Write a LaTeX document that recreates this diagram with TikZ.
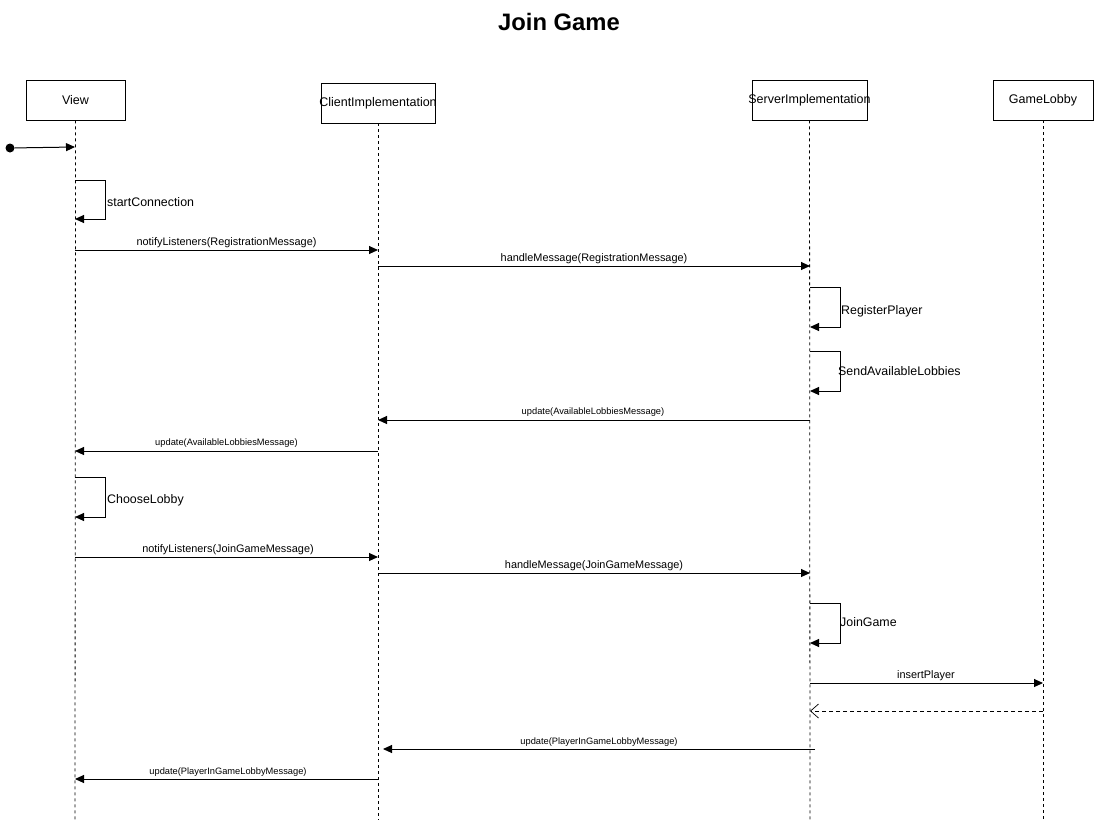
\documentclass[tikz,border=0pt]{standalone}
\usepackage{fontspec}
\setmainfont{Liberation Sans}
\usetikzlibrary{arrows.meta}
\begin{document}
\begin{tikzpicture}[x=1pt,y=-1pt,
  obj/.style={draw,line width=0.8pt,minimum width=#1,minimum height=40pt,inner sep=0pt,font=\fontsize{12.5}{14}\selectfont},
  life/.style={dash pattern=on 3pt off 3pt,line width=0.8pt},
  msg/.style={line width=1pt,-{Triangle[length=9pt,width=8pt]}},
  ret/.style={line width=0.8pt,dash pattern=on 4pt off 3pt,-{Straight Barb[length=8pt,width=14pt,line width=0.7pt]}},
  selfmsg/.style={line width=1pt,-{Triangle[length=9pt,width=8pt]}},
  lbl/.style={font=\fontsize{10.9}{12}\selectfont,inner sep=0pt,yshift=-1.5pt},
  slbl/.style={font=\fontsize{9.3}{10}\selectfont,inner sep=0pt,yshift=-1.5pt},
  loopl/.style={font=\fontsize{12.4}{14}\selectfont,inner sep=0pt,anchor=west}]
\useasboundingbox (0,0) rectangle (1094,823);
\node[font=\fontsize{23.8}{28}\selectfont\bfseries] (title) at (559,22) {Join Game};
% lifeline heads
\node[obj=99pt] (view) at (75.5,100) {\raisebox{-1.5pt}{View}};
\node[obj=114pt] (client) at (378,103) {\raisebox{-2pt}{\makebox[0pt]{ClientImplementation}}};
\node[obj=115pt] (server) at (809.5,100) {\raisebox{-1.5pt}{\makebox[0pt]{ServerImplementation}}};
\node[obj=100pt] (lobby) at (1043,100) {\raisebox{-1.5pt}{GameLobby}};
% lifeline ends
\coordinate (viewE) at (75,820);
\coordinate (clientE) at (378,820);
\coordinate (serverE) at (810,820);
\coordinate (lobbyE) at (1043,820);
\draw[life] (view.south) -- (viewE);
\draw[life] (client.south) -- (clientE);
\draw[life] (server.south) -- (serverE);
\draw[life] (lobby.south) -- (lobbyE);
% initial
\node[circle,fill,inner sep=0pt,minimum size=9pt] (start) at (10,148) {};
\coordinate (v0) at (75,147);
\draw[msg] (start) -- (v0);
% startConnection
\coordinate (v1a) at (75,180); \coordinate (v1b) at (75,219);
\draw[selfmsg] (v1a) -- ++(30,0) |- (v1b);
\node[loopl] (l1) at (107,202) {startConnection};
% notifyListeners(RegistrationMessage)
\coordinate (v2) at (75,250); \coordinate (c2) at (378,250);
\draw[msg] (v2) -- (c2);
\node[lbl] (l2) at (226.5,241) {notifyListeners(RegistrationMessage)};
% handleMessage(RegistrationMessage)
\coordinate (c3) at (378,266); \coordinate (s3) at (810,266);
\draw[msg] (c3) -- (s3);
\node[lbl] (l3) at (594,257) {handleMessage(RegistrationMessage)};
% RegisterPlayer
\coordinate (s4a) at (810,287); \coordinate (s4b) at (810,327);
\draw[selfmsg] (s4a) -- ++(30,0) |- (s4b);
\node[loopl] (l4) at (841,311) {RegisterPlayer};
% SendAvailableLobbies
\coordinate (s5a) at (810,351); \coordinate (s5b) at (810,391);
\draw[selfmsg] (s5a) -- ++(30,0) |- (s5b);
\node[loopl] (l5) at (838,371) {SendAvailableLobbies};
% update(AvailableLobbiesMessage) server->client
\coordinate (s6) at (810,420); \coordinate (c6) at (378,420);
\draw[msg] (s6) -- (c6);
\node[slbl] (l6) at (593,411) {update(AvailableLobbiesMessage)};
% update(AvailableLobbiesMessage) client->view
\coordinate (c7) at (378,451); \coordinate (v7) at (75,451);
\draw[msg] (c7) -- (v7);
\node[slbl] (l7) at (226.5,442) {update(AvailableLobbiesMessage)};
% ChooseLobby
\coordinate (v8a) at (75,477); \coordinate (v8b) at (75,517);
\draw[selfmsg] (v8a) -- ++(30,0) |- (v8b);
\node[loopl] (l8) at (107,500) {ChooseLobby};
% notifyListeners(JoinGameMessage)
\coordinate (v9) at (75,557); \coordinate (c9) at (378,557);
\draw[msg] (v9) -- (c9);
\node[lbl] (l9) at (228,548) {notifyListeners(JoinGameMessage)};
% handleMessage(JoinGameMessage)
\coordinate (c10) at (378,573); \coordinate (s10) at (810,573);
\draw[msg] (c10) -- (s10);
\node[lbl] (l10) at (594,564) {handleMessage(JoinGameMessage)};
% JoinGame
\coordinate (s11a) at (810,603); \coordinate (s11b) at (810,643);
\draw[selfmsg] (s11a) -- ++(30,0) |- (s11b);
\node[loopl] (l11) at (840,622) {JoinGame};
% insertPlayer
\coordinate (s12) at (810,683); \coordinate (g12) at (1043,683);
\draw[msg] (s12) -- (g12);
\node[lbl] (l12) at (926,674) {insertPlayer};
% return
\coordinate (g13) at (1043,711); \coordinate (s13) at (810,711);
\draw[ret] (g13) -- (s13);
% update(PlayerInGameLobbyMessage) server->client
\coordinate (s14) at (815,749); \coordinate (c14) at (383,749);
\draw[msg] (s14) -- (c14);
\node[slbl] (l14) at (599,741) {update(PlayerInGameLobbyMessage)};
% update(PlayerInGameLobbyMessage) client->view
\coordinate (c15) at (378,779); \coordinate (v15) at (75,779);
\draw[msg] (c15) -- (v15);
\node[slbl] (l15) at (228,771) {update(PlayerInGameLobbyMessage)};
\end{tikzpicture}
\end{document}
